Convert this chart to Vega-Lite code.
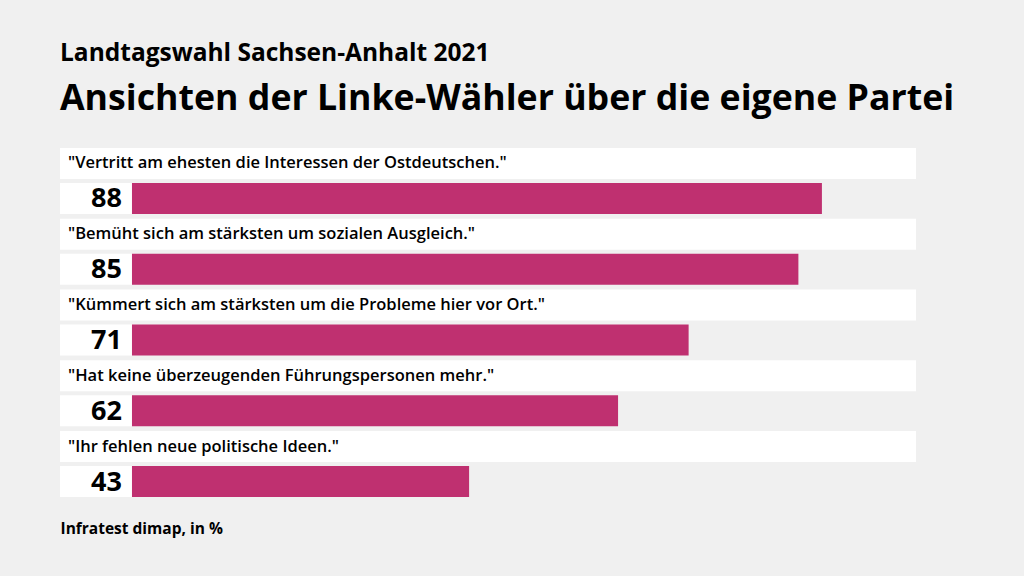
{
  "$schema": "https://vega.github.io/schema/vega-lite/v6.json",
  "width": 856,
  "height": 354,
  "autosize": {"type": "none"},
  "padding": {"left": 60, "top": 148, "right": 108, "bottom": 74},
  "background": "#f0f0f0",
  "config": {"view": {"stroke": null}, "font": "Open Sans"},
  "title": {
    "text": "Landtagswahl Sachsen-Anhalt 2021",
    "subtitle": "Ansichten der Linke-Wähler über die eigene Partei",
    "anchor": "start",
    "frame": "group",
    "font": "Open Sans",
    "fontSize": 24.5,
    "fontWeight": "bold",
    "color": "#000000",
    "subtitleFont": "Open Sans",
    "subtitleFontSize": 35.7,
    "subtitleFontWeight": "bold",
    "subtitleColor": "#000000",
    "subtitlePadding": 16,
    "offset": 30
  },
  "data": {
    "values": [
      {"frage": "\"Vertritt am ehesten die Interessen der Ostdeutschen.\"", "wert": 88},
      {"frage": "\"Bemüht sich am stärksten um sozialen Ausgleich.\"", "wert": 85},
      {"frage": "\"Kümmert sich am stärksten um die Probleme hier vor Ort.\"", "wert": 71},
      {"frage": "\"Hat keine überzeugenden Führungspersonen mehr.\"", "wert": 62},
      {"frage": "\"Ihr fehlen neue politische Ideen.\"", "wert": 43}
    ]
  },
  "encoding": {
    "y": {
      "field": "frage",
      "type": "nominal",
      "sort": null,
      "scale": {"paddingInner": 0, "paddingOuter": 0},
      "axis": null
    }
  },
  "layer": [
    {
      "mark": {"type": "bar", "color": "#ffffff", "height": 31, "yOffset": -20},
      "encoding": {
        "x": {
          "datum": -9.18,
          "type": "quantitative",
          "scale": {"domain": [-9.18, 100], "nice": false, "zero": false},
          "axis": {
            "title": "Infratest dimap, in %",
            "labels": false,
            "ticks": false,
            "domain": false,
            "grid": false,
            "titleAnchor": "start",
            "titleAlign": "left",
            "titleX": 0,
            "titleY": 26,
            "titleBaseline": "middle",
            "titleFont": "Open Sans",
            "titleFontSize": 15.5,
            "titleFontWeight": "bold",
            "titleColor": "#000000"
          }
        },
        "x2": {"datum": 100}
      }
    },
    {
      "mark": {"type": "bar", "color": "#ffffff", "height": 31, "yOffset": 15},
      "encoding": {
        "x": {"datum": -9.18, "type": "quantitative"},
        "x2": {"datum": 0}
      }
    },
    {
      "mark": {"type": "bar", "color": "#bf3070", "height": 31, "yOffset": 15},
      "encoding": {
        "x": {"field": "wert", "type": "quantitative"},
        "x2": {"datum": 0}
      }
    },
    {
      "mark": {"type": "text", "align": "left", "baseline": "middle", "dx": 8, "yOffset": -20, "fontSize": 16.5, "fontWeight": 600, "color": "#000000"},
      "encoding": {
        "x": {"datum": -9.18, "type": "quantitative"},
        "text": {"field": "frage"}
      }
    },
    {
      "mark": {"type": "text", "align": "right", "baseline": "middle", "dx": -10, "yOffset": 16, "fontSize": 27, "fontWeight": "bold", "color": "#000000"},
      "encoding": {
        "x": {"datum": 0, "type": "quantitative"},
        "text": {"field": "wert"}
      }
    }
  ]
}
